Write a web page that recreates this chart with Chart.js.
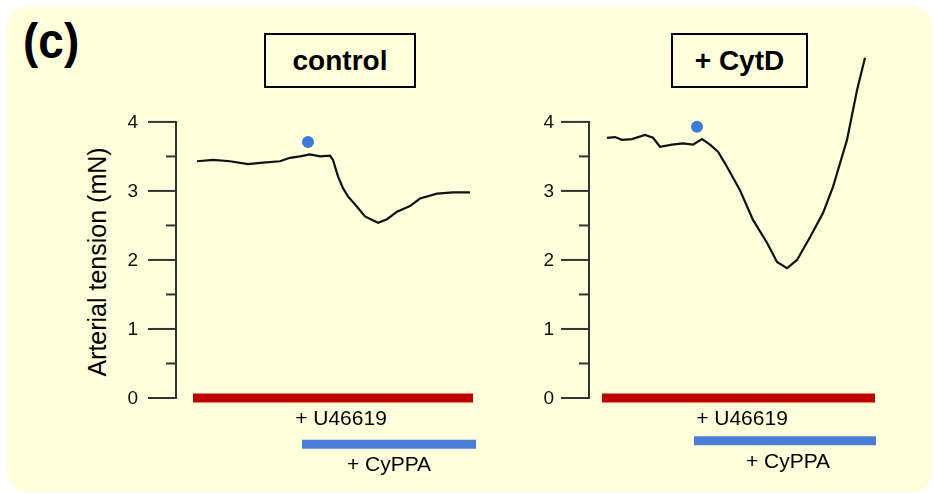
<!DOCTYPE html>
<html>
<head>
<meta charset="utf-8">
<script src="https://cdn.jsdelivr.net/npm/chart.js@4"></script>
<style>
  body { margin: 0; background: #fff; font-family: "Liberation Sans", Arial, sans-serif; }
  #panel { position: absolute; left: 7px; top: 7px; width: 925px; height: 485px; background: #ffffdc; border-radius: 20px; }
  canvas { position: absolute; top: 0; }
  .tag { position: absolute; font-weight: bold; color: #000; }
  .box { position: absolute; top: 33px; height: 51px; border: 2px solid #000; font-weight: bold; font-size: 28px;
         display: flex; align-items: center; justify-content: center; box-sizing: content-box; }
  #ylab { position: absolute; left: 97px; top: 262px; font-size: 25px; transform: translate(-50%, -50%) rotate(-90deg); white-space: nowrap; }
</style>
</head>
<body>
<div id="panel"></div>
<div class="tag" style="left:23px; top:12px; font-size:50px; transform-origin: left top; transform: scaleX(0.92);">(c)</div>
<div class="box" style="left:264px; width:148px;">control</div>
<div class="box" style="left:671px; width:133px;">+ CytD</div>
<div id="ylab">Arterial tension (mN)</div>
<canvas id="chartControl" width="480" height="493" style="left:0"></canvas>
<canvas id="chartCytD" width="453" height="493" style="left:480px"></canvas>
<script>
// time in arbitrary units (trace start = 0), tension in mN
const controlTime = [0, 1.6, 3.3, 5.1, 6.6, 8.3, 9.3, 10.3, 11.3, 12.3, 13.3, 13.6, 14.1, 14.6, 15.1, 16, 16.8, 18.1, 19, 20, 21.3, 22.3, 24, 25.6, 27.3];
const controlTension = [3.43, 3.45, 3.43, 3.39, 3.41, 3.43, 3.48, 3.50, 3.53, 3.50, 3.51, 3.45, 3.21, 3.04, 2.92, 2.77, 2.63, 2.54, 2.59, 2.70, 2.78, 2.89, 2.96, 2.98, 2.98];
const cytdTime = [0, 0.8, 1.5, 2.5, 3.8, 4.6, 5.3, 6.5, 7.6, 8.6, 9.5, 10.3, 11.1, 11.8, 13.3, 14.6, 16, 17, 18, 19, 20.3, 21.6, 22.6, 24, 25, 25.8];
const cytdTension = [3.77, 3.78, 3.74, 3.75, 3.81, 3.77, 3.64, 3.67, 3.69, 3.67, 3.75, 3.67, 3.57, 3.40, 3.01, 2.58, 2.25, 1.97, 1.88, 2.00, 2.33, 2.68, 3.06, 3.74, 4.46, 4.93];

// drug application bars [start, end, level]
const controlU46619 = [-0.4, 27.6, 0];
const controlCyPPA = [10.5, 27.9, -0.67];
const cytdU46619 = [-0.5, 26.8, 0];
const cytdCyPPA = [8.7, 26.9, -0.62];
// label centres on the time axis [U46619, CyPPA]
const controlLabelTime = [14.4, 19.2];
const cytdLabelTime = [13.5, 18.1];
const controlDot = [11.1, 3.71];
const cytdDot = [9.0, 3.93];

const yTicks = [0, 1, 2, 3, 4];
const barNames = ['+ U46619', '+ CyPPA'];

const red = '#c00000';
const blue = '#4a7ed6';

function pts(xs, ys) { return xs.map((x, i) => ({ x: x, y: ys[i] })); }
function bar(b) { return [{ x: b[0], y: b[2] }, { x: b[1], y: b[2] }]; }

const axisPlugin = {
  id: 'axisPlugin',
  afterDraw(chart) {
    const ctx = chart.ctx;
    const ys = chart.scales.y;
    const xs = chart.scales.x;
    const left = chart.chartArea.left;
    const opts = chart.options.plugins.axisPlugin;
    ctx.save();
    ctx.strokeStyle = '#333';
    ctx.lineWidth = 2;
    ctx.beginPath();
    ctx.moveTo(left, ys.getPixelForValue(0) + 1);
    ctx.lineTo(left, ys.getPixelForValue(4) - 1);
    ctx.stroke();
    ctx.font = '19px "Liberation Sans", Arial, sans-serif';
    ctx.fillStyle = '#111';
    ctx.textAlign = 'right';
    ctx.textBaseline = 'middle';
    for (let v = 0; v <= 4; v += 0.5) {
      const py = ys.getPixelForValue(v);
      const major = yTicks.includes(v);
      ctx.beginPath();
      ctx.moveTo(left - (major ? 28 : 10), py);
      ctx.lineTo(left, py);
      ctx.stroke();
      if (major) ctx.fillText(String(v), left - opts.labelGap, py + 1);
    }
    // bar labels
    ctx.fillStyle = '#000';
    ctx.textAlign = 'center';
    ctx.font = '21px "Liberation Sans", Arial, sans-serif';
    opts.bars.forEach((b, i) => {
      ctx.fillText(barNames[i], xs.getPixelForValue(opts.labelTime[i]), ys.getPixelForValue(b[2]) + 21);
    });
    ctx.restore();
  }
};

function makeChart(id, time, tension, barA, barB, labelTime, dot, xmin, xmax, padLeft, padRight, labelGap) {
  return new Chart(document.getElementById(id), {
    type: 'line',
    data: {
      datasets: [
        { data: pts(time, tension), borderColor: '#111', borderWidth: 2.2, pointRadius: 0, tension: 0 },
        { data: bar(barA), borderColor: red, borderWidth: 9, pointRadius: 0, borderCapStyle: 'butt' },
        { data: bar(barB), borderColor: blue, borderWidth: 9, pointRadius: 0, borderCapStyle: 'butt' },
        { data: [{ x: dot[0], y: dot[1] }], showLine: false, pointRadius: 6, pointBackgroundColor: '#3d7bd9', pointBorderWidth: 0 }
      ]
    },
    options: {
      responsive: false,
      animation: false,
      layout: { autoPadding: false, padding: { left: padLeft, right: padRight, top: 46, bottom: 26 } },
      plugins: {
        legend: { display: false },
        tooltip: { enabled: false },
        axisPlugin: { bars: [barA, barB], labelTime: labelTime, labelGap: labelGap }
      },
      scales: {
        x: { type: 'linear', min: xmin, max: xmax, display: false },
        y: { type: 'linear', min: -1, max: 5.1, display: false }
      }
    },
    plugins: [axisPlugin]
  });
}

makeChart('chartControl', controlTime, controlTension, controlU46619, controlCyPPA, controlLabelTime, controlDot, -2.1, 28.3, 176, 0, 38);
makeChart('chartCytD', cytdTime, cytdTension, cytdU46619, cytdCyPPA, cytdLabelTime, cytdDot, -1.8, 29.3, 109, 33, 35);
</script>
</body>
</html>
